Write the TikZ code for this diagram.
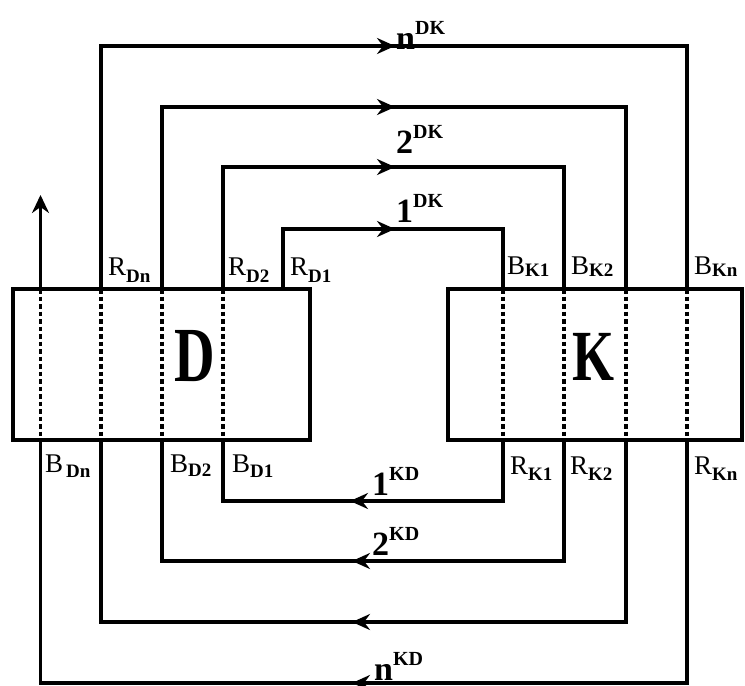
\documentclass[tikz,border=0pt]{standalone}
\usepackage{fontspec}
\setmainfont{Liberation Serif}
\usetikzlibrary{arrows.meta,decorations.markings}
\newcommand\lsub[2]{\raisebox{-#1pt}{\fontsize{19}{19}\selectfont\bfseries #2}}
\newcommand\flowlab[2]{{\bfseries\fontsize{34}{34}\selectfont #1\raisebox{15pt}{\fontsize{20}{20}\selectfont #2}}}
\begin{document}
\begin{tikzpicture}[x=1pt,y=-1pt,
  wire/.style={line width=3.3pt, line join=miter},
  dashwire/.style={line width=3.3pt, dash pattern=on 4.5pt off 3pt},
  box/.style={draw, line width=4.5pt, rectangle, inner sep=0pt},
  lab/.style={anchor=base west, inner sep=0pt, font=\fontsize{27}{27}\selectfont},
  flab/.style={anchor=base west, inner sep=0pt},
  tipshape/.tip={Stealth[length=18pt,width=16pt,inset=6pt]},
  arrowat/.style={postaction={decorate}, decoration={markings,
      mark=at position #1 with {\arrow{tipshape}}}}
]
\useasboundingbox (0,0) rectangle (745,686);

% boxes
\node[box, minimum width=297pt, minimum height=151pt] (D) at (161.5,364.5) {};
\node[box, minimum width=294pt, minimum height=151pt] (K) at (595,364.5) {};
\node (Dl) at (195,356) {\scalebox{0.72}[1]{\fontsize{78}{78}\selectfont\bfseries D}};
\node (Kl) at (593,357) {\scalebox{0.75}[1]{\fontsize{72}{72}\selectfont\bfseries K}};

% ports
\coordinate (dt0) at (40.5,289);
\coordinate (dtn) at (101,289);
\coordinate (dt3) at (162,289);
\coordinate (dt2) at (223,289);
\coordinate (dt1) at (283,289);
\coordinate (kt1) at (503,289);
\coordinate (kt2) at (564,289);
\coordinate (kt3) at (626,289);
\coordinate (ktn) at (687,289);
\coordinate (dbn) at (40.5,440);
\coordinate (db3) at (101,440);
\coordinate (db2) at (162,440);
\coordinate (db1) at (223,440);
\coordinate (kb1) at (503,440);
\coordinate (kb2) at (564,440);
\coordinate (kb3) at (626,440);
\coordinate (kbn) at (687,440);
\coordinate (up) at (40.5,195);

% level points
\coordinate (t1) at (395,229);
\coordinate (t2) at (395,167);
\coordinate (t3) at (395,107);
\coordinate (tn) at (395,46);
\coordinate (b1) at (350,501);
\coordinate (b2) at (352,561);
\coordinate (b3) at (352,622);
\coordinate (bn) at (352,683);

% dashed passes through boxes
\draw[dashwire] (dt0) -- (dbn);
\draw[dashwire] (dtn) -- (db3);
\draw[dashwire] (dt3) -- (db2);
\draw[dashwire] (dt2) -- (db1);
\draw[dashwire] (kt1) -- (kb1);
\draw[dashwire] (kt2) -- (kb2);
\draw[dashwire] (kt3) -- (kb3);
\draw[dashwire] (ktn) -- (kbn);

% top loops D -> K
\draw[wire, arrowat=172pt] (dt1) |- (t1) -| (kt1);
\draw[wire, arrowat=294pt] (dt2) |- (t2) -| (kt2);
\draw[wire, arrowat=415pt] (dt3) |- (t3) -| (kt3);
\draw[wire, arrowat=537pt] (dtn) |- (tn) -| (ktn);

% bottom loops K -> D
\draw[wire, arrowat=214pt] (kb1) |- (b1) -| (db1);
\draw[wire, arrowat=333pt] (kb2) |- (b2) -| (db2);
\draw[wire, arrowat=456pt] (kb3) |- (b3) -| (db3);
\draw[wire, arrowat=578pt] (kbn) |- (bn) -| (dbn);
\draw[wire, -{Stealth[length=18pt,width=17pt,inset=6pt]}] (dt0) -- (up);

% port labels
\node[lab] (rdn) at (108,275) {R\lsub{7}{Dn}};
\node[lab] (rd2) at (228,275) {R\lsub{7}{D2}};
\node[lab] (rd1) at (290,275) {R\lsub{7}{D1}};
\node[lab] (bk1) at (507,274) {B\lsub{2}{K1}};
\node[lab] (bk2) at (571,274) {B\lsub{2}{K2}};
\node[lab] (bkn) at (694,274) {B\lsub{2}{Kn}};
\node[lab] (bdn) at (45,472) {B\hspace{3pt}\lsub{5}{Dn}};
\node[lab] (bd2) at (170,472) {B\lsub{4}{D2}};
\node[lab] (bd1) at (232,472) {B\lsub{5}{D1}};
\node[lab] (rk1) at (510,474) {R\lsub{6}{K1}};
\node[lab] (rk2) at (570,474) {R\lsub{6}{K2}};
\node[lab] (rkn) at (694,474) {R\lsub{6}{Kn}};

% flow labels
\node[flab] (fn) at (396,49) {\flowlab{n}{DK}};
\node[flab] (f2) at (396,153) {\flowlab{2}{DK}};
\node[flab] (f1) at (396,222) {\flowlab{1}{DK}};
\node[flab] (g1) at (372,495) {\flowlab{1}{KD}};
\node[flab] (g2) at (372,555) {\flowlab{2}{KD}};
\node[flab] (gn) at (374,680) {\flowlab{n}{KD}};
\end{tikzpicture}
\end{document}
